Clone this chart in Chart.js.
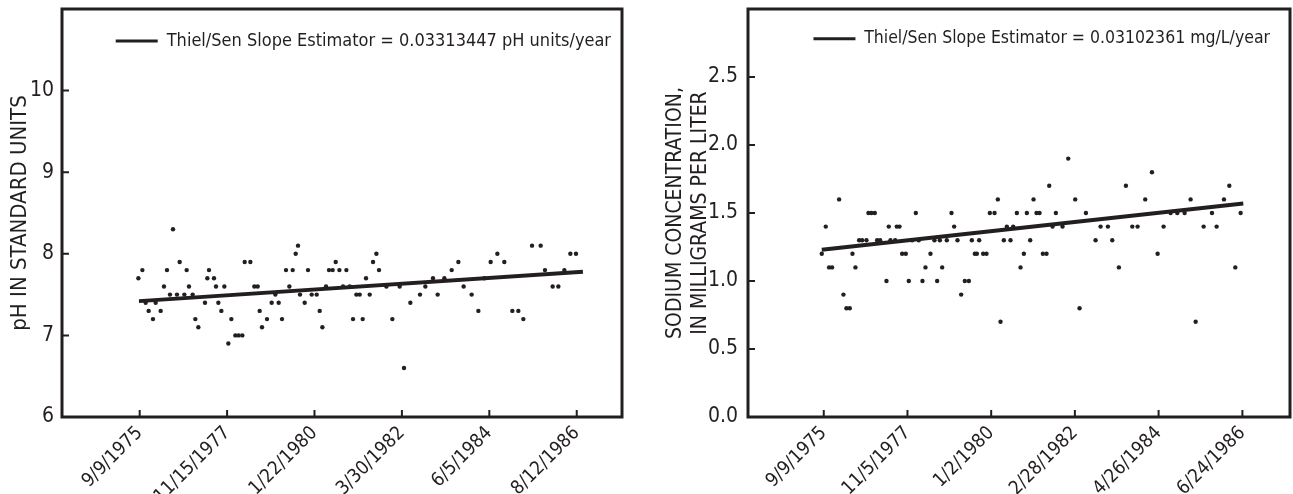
<!DOCTYPE html>
<html>
<head>
<meta charset="utf-8">
<script src="https://cdn.jsdelivr.net/npm/chart.js@4.4.1/dist/chart.umd.min.js"></script>
<style>
  html, body { margin: 0; padding: 0; background: #fff; }
  #wrap { position: relative; width: 1293px; height: 494px; }
  canvas { position: absolute; top: 0; }
  #ph { left: 0; }
  #na { left: 640px; }
</style>
</head>
<body>
<div id="wrap">
  <canvas id="ph" width="640" height="494"></canvas>
  <canvas id="na" width="653" height="494"></canvas>
</div>
<script>
// pH chart: sample dates (decimal years) and values
const phDates = [
  1975.654, 1975.754, 1975.836, 1975.911, 1976.019, 1976.086, 1976.211, 1976.294, 1976.369, 1976.444,
  1976.519, 1976.619, 1976.686, 1976.803, 1976.861, 1976.919, 1977.011, 1977.078, 1977.153, 1977.319,
  1977.378, 1977.419, 1977.544, 1977.594, 1977.653, 1977.728, 1977.803, 1977.903, 1977.978, 1978.078,
  1978.161, 1978.253, 1978.311, 1978.453, 1978.553, 1978.636, 1978.686, 1978.744, 1978.869, 1978.986,
  1979.078, 1979.161, 1979.244, 1979.344, 1979.428, 1979.511, 1979.586, 1979.644, 1979.694, 1979.811,
  1979.894, 1979.986, 1980.111, 1980.186, 1980.253, 1980.344, 1980.419, 1980.511, 1980.586, 1980.678,
  1980.769, 1980.853, 1980.936, 1981.019, 1981.103, 1981.186, 1981.261, 1981.344, 1981.436, 1981.519,
  1981.603, 1981.669, 1981.853, 1982.002, 1982.185, 1982.293, 1982.452, 1982.693, 1982.827, 1983.018,
  1983.135, 1983.302, 1983.485, 1983.652, 1983.784, 1983.984, 1984.152, 1984.301, 1984.459, 1984.627,
  1984.801, 1985.001, 1985.151, 1985.276, 1985.493, 1985.709, 1985.817, 1986.009, 1986.151, 1986.301,
  1986.451, 1986.592
];
const phValues = [
  7.7, 7.8, 7.4, 7.3, 7.2, 7.4, 7.3, 7.6, 7.8, 7.5,
  8.3, 7.5, 7.9, 7.5, 7.8, 7.6, 7.5, 7.2, 7.1, 7.4,
  7.7, 7.8, 7.7, 7.6, 7.4, 7.3, 7.6, 6.9, 7.2, 7.0,
  7.0, 7.0, 7.9, 7.9, 7.6, 7.6, 7.3, 7.1, 7.2, 7.4,
  7.5, 7.4, 7.2, 7.8, 7.6, 7.8, 8.0, 8.1, 7.5, 7.4,
  7.8, 7.5, 7.5, 7.3, 7.1, 7.6, 7.8, 7.8, 7.9, 7.8,
  7.6, 7.8, 7.6, 7.2, 7.5, 7.5, 7.2, 7.7, 7.5, 7.9,
  8.0, 7.8, 7.6, 7.2, 7.6, 6.6, 7.4, 7.5, 7.6, 7.7,
  7.5, 7.7, 7.8, 7.9, 7.6, 7.5, 7.3, 7.7, 7.9, 8.0,
  7.9, 7.3, 7.3, 7.2, 8.1, 8.1, 7.8, 7.6, 7.6, 7.8,
  8.0, 8.0
];
const phTrendDates = [1975.669, 1986.766];
const phTrendValues = [7.42, 7.78];
const phTickLabels = ['9/9/1975', '11/15/1977', '1/22/1980', '3/30/1982', '6/5/1984', '8/12/1986'];
const phYTicks = [6, 7, 8, 9, 10];

// sodium chart
const naDates = [
  1975.635, 1975.738, 1975.824, 1975.901, 1976.082, 1976.194, 1976.271, 1976.357, 1976.426, 1976.503,
  1976.598, 1976.675, 1976.787, 1976.838, 1976.916, 1977.002, 1977.062, 1977.139, 1977.303, 1977.363,
  1977.406, 1977.526, 1977.569, 1977.638, 1977.707, 1977.801, 1977.878, 1977.964, 1978.059, 1978.136,
  1978.231, 1978.308, 1978.437, 1978.540, 1978.609, 1978.678, 1978.738, 1978.858, 1978.979, 1979.047,
  1979.133, 1979.228, 1979.322, 1979.426, 1979.503, 1979.580, 1979.632, 1979.692, 1979.795, 1979.881,
  1979.967, 1980.088, 1980.173, 1980.242, 1980.328, 1980.405, 1980.500, 1980.569, 1980.663, 1980.758,
  1980.844, 1980.921, 1981.007, 1981.093, 1981.170, 1981.248, 1981.334, 1981.428, 1981.497, 1981.583,
  1981.669, 1981.841, 1981.987, 1982.167, 1982.279, 1982.443, 1982.692, 1982.821, 1983.010, 1983.122,
  1983.293, 1983.474, 1983.638, 1983.775, 1983.972, 1984.145, 1984.291, 1984.445, 1984.626, 1984.798,
  1984.987, 1985.141, 1985.271, 1985.477, 1985.692, 1985.812, 1986.001, 1986.139, 1986.293, 1986.431
];
const naValues = [
  1.2, 1.4, 1.1, 1.1, 1.6, 0.9, 0.8, 0.8, 1.2, 1.1,
  1.3, 1.3, 1.3, 1.5, 1.5, 1.5, 1.3, 1.3, 1.0, 1.4,
  1.3, 1.3, 1.4, 1.4, 1.2, 1.2, 1.0, 1.3, 1.5, 1.3,
  1.0, 1.1, 1.2, 1.3, 1.0, 1.3, 1.1, 1.3, 1.5, 1.4,
  1.3, 0.9, 1.0, 1.0, 1.3, 1.2, 1.2, 1.3, 1.2, 1.2,
  1.5, 1.5, 1.6, 0.7, 1.3, 1.4, 1.3, 1.4, 1.5, 1.1,
  1.2, 1.5, 1.3, 1.6, 1.5, 1.5, 1.2, 1.2, 1.7, 1.4,
  1.5, 1.4, 1.9, 1.6, 0.8, 1.5, 1.3, 1.4, 1.4, 1.3,
  1.1, 1.7, 1.4, 1.4, 1.6, 1.8, 1.2, 1.4, 1.5, 1.5,
  1.5, 1.6, 0.7, 1.4, 1.5, 1.4, 1.6, 1.7, 1.1, 1.5
];
const naTrendDates = [1975.635, 1986.499];
const naTrendValues = [1.23, 1.57];
const naTickLabels = ['9/9/1975', '11/5/1977', '1/2/1980', '2/28/1982', '4/26/1984', '6/24/1986'];
const naYTicks = [0.0, 0.5, 1.0, 1.5, 2.0, 2.5];

const INK = '#231f20';
const FONT = '"Liberation Sans Narrow", "DejaVu Sans Condensed", "Liberation Sans", sans-serif';

// m/d/yyyy -> decimal year
const decYear = (s) => {
  const [m, d, y] = s.split('/').map(Number);
  return 1970 + Date.UTC(y, m - 1, d) / (365.25 * 864e5);
};

const zip = (xs, ys) => xs.map((x, i) => ({x: x, y: ys[i]}));

// box round the plot, ticks pointing in
const framePlugin = {
  id: 'frame',
  afterDraw(chart) {
    const {ctx, chartArea: a, scales} = chart;
    ctx.save();
    ctx.strokeStyle = INK;
    ctx.lineWidth = 3;
    ctx.strokeRect(a.left, a.top, a.right - a.left, a.bottom - a.top);
    ctx.lineWidth = 2;
    ctx.beginPath();
    scales.x.ticks.forEach((t) => {
      const px = scales.x.getPixelForValue(t.value);
      ctx.moveTo(px, a.bottom);
      ctx.lineTo(px, a.bottom - 7);
    });
    scales.y.ticks.forEach((t) => {
      const py = scales.y.getPixelForValue(t.value);
      ctx.moveTo(a.left, py);
      ctx.lineTo(a.left + 7, py);
    });
    ctx.stroke();
    ctx.restore();
  }
};

// put the legend in the top right corner of the plot
const legendSpot = {
  id: 'legendSpot',
  afterLayout(chart, args, opts) {
    const lg = chart.legend;
    const a = chart.chartArea;
    if (!lg || !lg.columnSizes || !lg.columnSizes.length) return;
    const pad = lg.options.labels.padding;
    const w = lg.columnSizes[0].width;
    lg.left = a.right - opts.right - w - pad;
    lg.right = lg.left + w + 2 * pad;
    lg.top = a.top + opts.top;
    lg.bottom = lg.top + 60;
  }
};

const makeChart = (el, cfg) => {
  const xTicks = cfg.tickLabels.map(decYear);
  return new Chart(el, {
    type: 'scatter',
    plugins: [framePlugin, legendSpot],
    data: {
      datasets: [
        {
          label: 'data',
          data: zip(cfg.dates, cfg.values),
          pointRadius: 2.2,
          pointHoverRadius: 2.2,
          backgroundColor: INK,
          borderWidth: 0
        },
        {
          type: 'line',
          label: cfg.legend,
          data: zip(cfg.trendDates, cfg.trendValues),
          borderColor: INK,
          backgroundColor: INK,
          borderWidth: 4,
          pointRadius: 0,
          fill: false
        }
      ]
    },
    options: {
      responsive: false,
      animation: false,
      layout: {
        padding: {top: 9, right: cfg.padRight, left: 0, bottom: 0}
      },
      plugins: {
        legendSpot: {right: cfg.legendRight, top: cfg.legendTop},
        legend: {
          position: 'chartArea',
          align: 'start',
          labels: {
            filter: (item) => item.datasetIndex === 1,
            generateLabels: (chart) => {
              const items = Chart.defaults.plugins.legend.labels.generateLabels(chart);
              items.forEach((it) => { it.lineWidth = 0; it.fillStyle = INK; });
              return items;
            },
            boxWidth: 42,
            boxHeight: 3,
            color: INK,
            padding: 12,
            font: {family: FONT, size: cfg.legendSize}
          }
        },
        tooltip: {enabled: false}
      },
      scales: {
        x: {
          type: 'linear',
          min: cfg.xMin,
          max: cfg.xMax,
          afterBuildTicks: (scale) => {
            scale.ticks = xTicks.map((v) => ({value: v}));
          },
          afterFit: (scale) => {
            scale.height = 77;
            scale.paddingLeft = 0;
            scale.paddingRight = 0;
          },
          grid: {display: false, drawTicks: false},
          border: {display: false},
          ticks: {
            autoSkip: false,
            maxRotation: 45,
            minRotation: 45,
            padding: 5,
            color: INK,
            font: {family: FONT, size: 19},
            callback: (v, i) => cfg.tickLabels[i]
          }
        },
        y: {
          min: cfg.yMin,
          max: cfg.yMax,
          afterBuildTicks: (scale) => {
            scale.ticks = cfg.yTicks.map((v) => ({value: v}));
          },
          afterFit: (scale) => {
            scale.width = cfg.yWidth;
            scale.paddingTop = 0;
            scale.paddingBottom = 0;
          },
          grid: {display: false, drawTicks: false},
          border: {display: false},
          title: {
            display: true,
            text: cfg.yTitle,
            color: INK,
            padding: {top: cfg.titlePad, bottom: 0},
            font: {family: FONT, size: cfg.titleSize, lineHeight: cfg.titleLine}
          },
          ticks: {
            padding: cfg.yTickPad,
            color: INK,
            font: {family: FONT, size: 21},
            callback: (v) => cfg.yDigits ? Number(v).toFixed(cfg.yDigits) : String(v)
          }
        }
      }
    }
  });
};

makeChart(document.getElementById('ph'), {
  dates: phDates,
  values: phValues,
  trendDates: phTrendDates,
  trendValues: phTrendValues,
  tickLabels: phTickLabels,
  yTicks: phYTicks,
  legend: 'Thiel/Sen Slope Estimator = 0.03313447 pH units/year',
  yTitle: 'pH IN STANDARD UNITS',
  yMin: 6,
  yMax: 11,
  yDigits: 0,
  xMin: 1973.745,
  xMax: 1987.742,
  yWidth: 62,
  yTickPad: 8,
  padRight: 18,
  titlePad: 7,
  titleSize: 22,
  titleLine: 1.2,
  legendRight: 11,
  legendTop: 11,
  legendSize: 18
});

makeChart(document.getElementById('na'), {
  dates: naDates,
  values: naValues,
  trendDates: naTrendDates,
  trendValues: naTrendValues,
  tickLabels: naTickLabels,
  yTicks: naYTicks,
  legend: 'Thiel/Sen Slope Estimator = 0.03102361 mg/L/year',
  yTitle: ['SODIUM CONCENTRATION,', 'IN MILLIGRAMS PER LITER'],
  yMin: 0,
  yMax: 3,
  yDigits: 1,
  xMin: 1973.734,
  xMax: 1987.703,
  yWidth: 108,
  yTickPad: 10,
  padRight: 3,
  titlePad: 23,
  titleSize: 21,
  titleLine: 1.2,
  legendRight: 20,
  legendTop: 9,
  legendSize: 17.5
});
</script>
</body>
</html>
